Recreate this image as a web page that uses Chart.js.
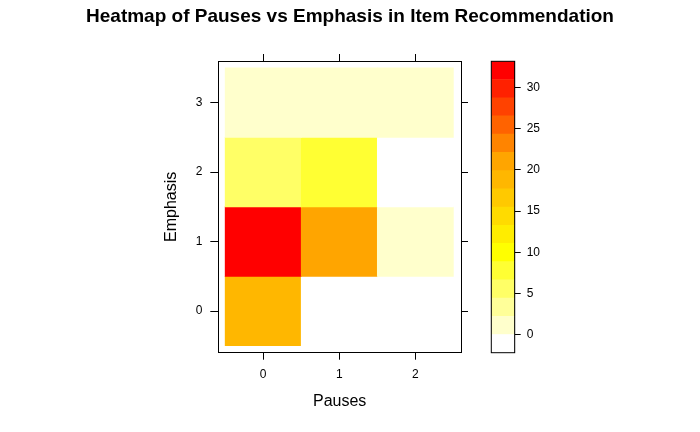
<!DOCTYPE html>
<html>
<head>
<meta charset="utf-8">
<script src="https://cdn.jsdelivr.net/npm/chart.js@4/dist/chart.umd.min.js"></script>
<style>
  html, body { margin: 0; padding: 0; background: #fff; }
  #wrap { position: relative; width: 700px; height: 432px; }
  #wrap canvas { position: absolute; left: 0; top: 0; }
</style>
</head>
<body>
<div id="wrap">
  <canvas id="heat" width="700" height="432"></canvas>
  <canvas id="key" width="700" height="432"></canvas>
</div>
<script>
// data
const pauses = [0, 1, 2];
const emphasis = [0, 1, 2, 3];
// counts per Emphasis row, one value per Pauses column
const emphasis0 = [18, 0, 0];
const emphasis1 = [31, 21, 1];
const emphasis2 = [6, 8, 0];
const emphasis3 = [1, 1, 1];
const rows = [emphasis0, emphasis1, emphasis2, emphasis3];

const pauseLabels = ['0', '1', '2'];
const emphasisLabels = ['0', '1', '2', '3'];
const keyTicks = [0, 5, 10, 15, 20, 25, 30];

// 16 colours, white -> yellow -> orange -> red
const palette = [
  '#FFFFFF', '#FFFFCC', '#FFFF99', '#FFFF66', '#FFFF33', '#FFFF00',
  '#FFED00', '#FFDB00', '#FFC900', '#FFB700', '#FFA500', '#FF8400',
  '#FF6300', '#FF4200', '#FF2100', '#FF0000'
];

Chart.defaults.font.family = "'Liberation Sans', Arial, sans-serif";
Chart.defaults.color = '#000';

// colour breaks like lattice: data range stretched by 7% each side
const allVals = rows.flat();
const zMin = Math.min(...allVals);
const zMax = Math.max(...allVals);
const span = zMax - zMin;
const lo = zMin - 0.07 * span;
const hi = zMax + 0.07 * span;
const breaks = palette.map((c, i) => lo + (hi - lo) * i / palette.length);
breaks.push(hi);

function colourFor(v) {
  for (let i = palette.length - 1; i >= 0; i--) {
    if (v >= breaks[i]) return palette[i];
  }
  return palette[0];
}

// one floating bar per cell
const cells = [];
const cellColours = [];
emphasis.forEach((e, r) => {
  pauses.forEach((p, c) => {
    cells.push({ x: p, y: [e - 0.5, e + 0.5] });
    cellColours.push(colourFor(rows[r][c]));
  });
});

const blackGrid = {
  drawOnChartArea: false,
  drawTicks: true,
  offset: false,
  color: '#000',
  tickColor: '#000',
  lineWidth: 1
};
const blackBorder = { display: true, color: '#000', width: 1 };

function fixedTicks(values) {
  return function(scale) {
    scale.ticks = values.map(v => ({ value: v }));
  };
}

new Chart(document.getElementById('heat'), {
  type: 'bar',
  data: {
    datasets: [{
      data: cells,
      backgroundColor: cellColours,
      borderWidth: 0,
      barPercentage: 1,
      categoryPercentage: 1
    }]
  },
  options: {
    responsive: false,
    animation: false,
    layout: { padding: 0 },
    plugins: {
      legend: { display: false },
      tooltip: { enabled: false },
      title: {
        display: true,
        text: 'Heatmap of Pauses vs Emphasis in Item Recommendation',
        font: { size: 19, weight: 'bold' },
        color: '#000',
        padding: { top: 5.6, bottom: 25.6 }
      }
    },
    scales: {
      x: {
        type: 'linear',
        position: 'bottom',
        offset: false,
        min: -0.59,
        max: 2.6,
        afterBuildTicks: fixedTicks(pauses),
        afterFit: s => { s.height = 79.3; },
        ticks: {
          font: { size: 12 },
          padding: 8,
          maxRotation: 0,
          callback: v => pauseLabels[pauses.indexOf(v)]
        },
        grid: Object.assign({}, blackGrid, { tickLength: 7 }),
        border: blackBorder,
        title: {
          display: true,
          text: 'Pauses',
          font: { size: 16 },
          padding: { top: 4, bottom: 20.7 }
        }
      },
      x2: {
        type: 'linear',
        position: 'top',
        offset: false,
        min: -0.59,
        max: 2.6,
        afterBuildTicks: fixedTicks(pauses),
        afterFit: s => { s.height = 7; },
        ticks: { display: false },
        grid: Object.assign({}, blackGrid, { tickLength: 7 }),
        border: blackBorder
      },
      y: {
        type: 'linear',
        position: 'left',
        min: -0.6,
        max: 3.6,
        afterBuildTicks: fixedTicks(emphasis),
        afterFit: s => { s.width = 218.3; },
        ticks: {
          font: { size: 12 },
          padding: 8,
          callback: v => emphasisLabels[emphasis.indexOf(v)]
        },
        grid: Object.assign({}, blackGrid, { tickLength: 8 }),
        border: blackBorder,
        title: {
          display: true,
          text: 'Emphasis',
          font: { size: 16 },
          padding: { top: 161.5, bottom: 4 }
        }
      },
      y2: {
        type: 'linear',
        position: 'right',
        min: -0.6,
        max: 3.6,
        afterBuildTicks: fixedTicks(emphasis),
        afterFit: s => { s.width = 239; },
        ticks: { display: false },
        grid: Object.assign({}, blackGrid, { tickLength: 7 }),
        border: blackBorder
      }
    }
  }
});

// colour key, one band per palette colour
const keyBox = {
  id: 'keyBox',
  afterDatasetsDraw(chart) {
    const a = chart.chartArea;
    const ctx = chart.ctx;
    ctx.save();
    ctx.strokeStyle = '#000';
    ctx.lineWidth = 1;
    ctx.strokeRect(a.left, a.top, a.right - a.left, a.bottom - a.top);
    ctx.restore();
  }
};

new Chart(document.getElementById('key'), {
  type: 'bar',
  data: {
    labels: ['key'],
    datasets: palette.map((c, i) => ({
      data: [[breaks[i], breaks[i + 1]]],
      backgroundColor: c,
      borderWidth: 0,
      grouped: false,
      barPercentage: 1,
      categoryPercentage: 1
    }))
  },
  options: {
    responsive: false,
    animation: false,
    layout: { padding: { left: 491.3, top: 61.3, bottom: 79.3, right: 0 } },
    plugins: {
      legend: { display: false },
      tooltip: { enabled: false },
      title: { display: false }
    },
    scales: {
      x: { display: false },
      y: {
        position: 'right',
        min: lo,
        max: hi,
        afterBuildTicks: fixedTicks(keyTicks),
        afterFit: s => { s.width = 185.3; },
        ticks: { font: { size: 12 }, padding: 6 },
        grid: Object.assign({}, blackGrid, { tickLength: 6 }),
        border: blackBorder
      }
    }
  },
  plugins: [keyBox]
});
</script>
</body>
</html>
